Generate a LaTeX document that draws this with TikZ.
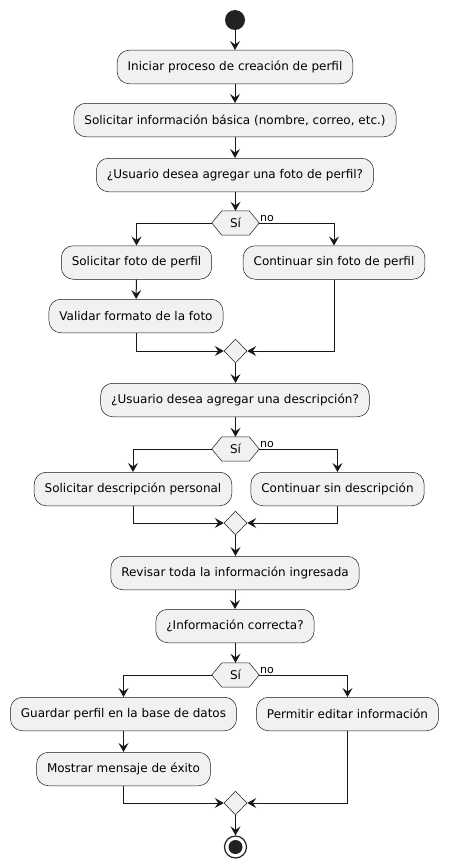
\documentclass[tikz,border=0pt]{standalone}
\usepackage{fontspec}
\setmainfont{DejaVu Sans}
\usetikzlibrary{arrows.meta,shapes.geometric,backgrounds}
\definecolor{boxfill}{HTML}{F1F1F1}
\definecolor{lin}{HTML}{181818}
\definecolor{dot}{HTML}{222222}
\tikzset{
  box/.style={draw=lin, line width=0.5pt, fill=boxfill, rounded corners=12pt,
    minimum height=33.5pt, inner xsep=10.5pt, font=\fontsize{12}{14}\selectfont, text=black},
  hexlabel/.style={minimum width=47pt, minimum height=24pt, inner sep=0pt, font=\fontsize{12}{14}\selectfont},
  merge/.style={diamond, draw=lin, line width=0.5pt, fill=boxfill, minimum width=23pt, minimum height=24pt, inner sep=0pt},
  arr/.style={draw=lin, line width=1pt, -{Stealth[length=9pt,width=10pt,inset=3.5pt]}},
  nolabel/.style={font=\fontsize{11}{13}\selectfont, inner sep=0pt, anchor=base west},
  startdot/.style={circle, fill=dot, minimum size=20pt, inner sep=0pt},
  enddot/.style={circle, draw=dot, line width=1.2pt, fill=white, minimum size=22pt, inner sep=0pt,
    path picture={\fill[dot] (path picture bounding box.center) circle (7pt);}},
}
\newcommand\hexshape[1]{%
  \begin{scope}[on background layer]
    \draw[draw=lin, line width=0.5pt, fill=boxfill] (#1.west) -- ([xshift=10pt]#1.north west) -- ([xshift=-10pt]#1.north east) -- (#1.east) -- ([xshift=-10pt]#1.south east) -- ([xshift=10pt]#1.south west) -- cycle;
  \end{scope}}
\begin{document}
\begin{tikzpicture}[x=1pt, y=-1pt]
\useasboundingbox (0,0) rectangle (448,867);
\node[startdot] (start) at (235,20) {};
\node[box] (b1) at (235,67) {Iniciar proceso de creación de perfil};
\node[box] (b2) at (235,120) {Solicitar información básica (nombre, correo, etc.)};
\node[box] (b3) at (235,175) {¿Usuario desea agregar una foto de perfil?};
\node[hexlabel] (d1) at (235.5,223) {Sí};
\hexshape{d1}
\node[nolabel] (no1) at (260,221) {no};
\node[box] (b4) at (136.5,262.5) {Solicitar foto de perfil};
\node[box] (b5) at (136,316) {Validar formato de la foto};
\node[box] (b6) at (334,262.5) {Continuar sin foto de perfil};
\node[merge] (m1) at (235.5,351) {};
\node[box] (b7) at (235,400) {¿Usuario desea agregar una descripción?};
\node[hexlabel] (d2) at (235.5,449) {Sí};
\hexshape{d2}
\node[nolabel] (no2) at (260,447) {no};
\node[box] (b8) at (133,489) {Solicitar descripción personal};
\node[box] (b9) at (337.5,489) {Continuar sin descripción};
\node[merge] (m2) at (235.5,523) {};
\node[box] (b10) at (235,573) {Revisar toda la información ingresada};
\node[box] (b11) at (235,626) {¿Información correcta?};
\node[hexlabel] (d3) at (235.5,675) {Sí};
\hexshape{d3}
\node[nolabel] (no3) at (260,673) {no};
\node[box] (b12) at (123.5,714) {Guardar perfil en la base de datos};
\node[box] (b13) at (123.5,769) {Mostrar mensaje de éxito};
\node[box] (b14) at (347.5,714) {Permitir editar información};
\node[merge] (m3) at (235.5,803) {};
\node[enddot] (end) at (235.5,847) {};

\draw[arr] (start) -- (b1);
\draw[arr] (b1) -- (b2);
\draw[arr] (b2) -- (b3);
\draw[arr] (b3.south -| d1.north) -- (d1.north);
\draw[arr] (d1.west) -| (b4.north);
\draw[arr] (d1.east) -| (b6.north);
\draw[arr] (b4) -- (b5);
\draw[arr] (b5.south) |- (m1.west);
\draw[arr] (b6.south) |- (m1.east);
\draw[arr] (m1.south) -- (b7.north -| m1.south);
\draw[arr] (b7.south -| d2.north) -- (d2.north);
\draw[arr] (d2.west) -| (b8.north);
\draw[arr] (d2.east) -| (b9.north);
\draw[arr] (b8.south) |- (m2.west);
\draw[arr] (b9.south) |- (m2.east);
\draw[arr] (m2.south) -- (b10.north -| m2.south);
\draw[arr] (b10) -- (b11);
\draw[arr] (b11.south -| d3.north) -- (d3.north);
\draw[arr] (d3.west) -| (b12.north);
\draw[arr] (d3.east) -| (b14.north);
\draw[arr] (b12) -- (b13);
\draw[arr] (b13.south) |- (m3.west);
\draw[arr] (b14.south) |- (m3.east);
\draw[arr] (m3.south) -- (end);
\end{tikzpicture}
\end{document}
